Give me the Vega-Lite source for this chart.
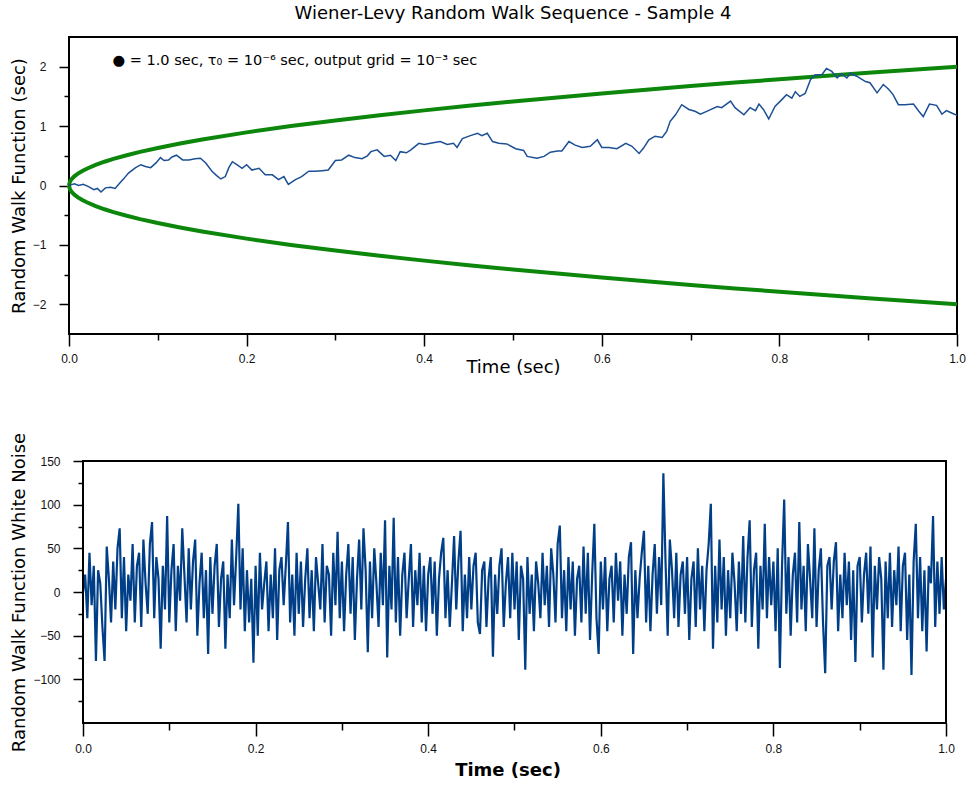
{
"$schema": "https://vega.github.io/schema/vega-lite/v6.json",
"background": "white",
"padding": {"left": 9, "top": 4, "right": 5, "bottom": 4},
"spacing": 55,
"config": {
"view": {"stroke": "#000", "strokeWidth": 2},
"axis": {"grid": false, "domain": false, "tickColor": "#000", "tickWidth": 1.5, "labelFont": "Liberation Sans", "labelFontSize": 12, "labelColor": "#111", "titleFont": "DejaVu Sans", "titleFontWeight": "normal", "titleFontSize": 18, "titleColor": "#000", "labelFlush": false, "labelOverlap": false}
},
"datasets": {
"walk": [
{"t":0,"v":0},{"t":0.002,"v":0.01},{"t":0.006,"v":0.03},{"t":0.011,"v":0.0},{"t":0.016,"v":0.02},{"t":0.022,"v":-0.02},{"t":0.028,"v":-0.07},{"t":0.032,"v":-0.05},{"t":0.036,"v":-0.11},{"t":0.041,"v":-0.04},{"t":0.047,"v":-0.03},{"t":0.052,"v":-0.05},{"t":0.056,"v":0.02},{"t":0.062,"v":0.12},{"t":0.067,"v":0.21},{"t":0.075,"v":0.30},{"t":0.081,"v":0.35},{"t":0.086,"v":0.32},{"t":0.092,"v":0.30},{"t":0.098,"v":0.38},{"t":0.103,"v":0.47},{"t":0.107,"v":0.42},{"t":0.112,"v":0.43},{"t":0.116,"v":0.48},{"t":0.121,"v":0.51},{"t":0.128,"v":0.43},{"t":0.135,"v":0.43},{"t":0.142,"v":0.45},{"t":0.148,"v":0.46},{"t":0.154,"v":0.38},{"t":0.161,"v":0.24},{"t":0.166,"v":0.17},{"t":0.171,"v":0.11},{"t":0.176,"v":0.15},{"t":0.180,"v":0.30},{"t":0.184,"v":0.40},{"t":0.189,"v":0.35},{"t":0.195,"v":0.29},{"t":0.2,"v":0.35},{"t":0.206,"v":0.26},{"t":0.214,"v":0.29},{"t":0.221,"v":0.18},{"t":0.229,"v":0.18},{"t":0.236,"v":0.10},{"t":0.242,"v":0.15},{"t":0.247,"v":0.02},{"t":0.255,"v":0.10},{"t":0.262,"v":0.15},{"t":0.27,"v":0.24},{"t":0.277,"v":0.24},{"t":0.285,"v":0.25},{"t":0.292,"v":0.26},{"t":0.30,"v":0.42},{"t":0.307,"v":0.43},{"t":0.315,"v":0.51},{"t":0.322,"v":0.47},{"t":0.33,"v":0.45},{"t":0.336,"v":0.50},{"t":0.34,"v":0.57},{"t":0.347,"v":0.60},{"t":0.355,"v":0.49},{"t":0.362,"v":0.51},{"t":0.368,"v":0.42},{"t":0.373,"v":0.57},{"t":0.38,"v":0.55},{"t":0.385,"v":0.60},{"t":0.394,"v":0.71},{"t":0.40,"v":0.69},{"t":0.407,"v":0.71},{"t":0.418,"v":0.74},{"t":0.426,"v":0.69},{"t":0.433,"v":0.71},{"t":0.437,"v":0.64},{"t":0.443,"v":0.79},{"t":0.452,"v":0.84},{"t":0.46,"v":0.88},{"t":0.465,"v":0.84},{"t":0.471,"v":0.88},{"t":0.477,"v":0.74},{"t":0.484,"v":0.71},{"t":0.493,"v":0.70},{"t":0.503,"v":0.62},{"t":0.512,"v":0.59},{"t":0.516,"v":0.49},{"t":0.527,"v":0.46},{"t":0.535,"v":0.49},{"t":0.542,"v":0.56},{"t":0.55,"v":0.58},{"t":0.555,"v":0.58},{"t":0.563,"v":0.74},{"t":0.57,"v":0.68},{"t":0.578,"v":0.64},{"t":0.587,"v":0.66},{"t":0.595,"v":0.77},{"t":0.60,"v":0.64},{"t":0.608,"v":0.64},{"t":0.617,"v":0.62},{"t":0.627,"v":0.71},{"t":0.634,"v":0.66},{"t":0.642,"v":0.54},{"t":0.647,"v":0.63},{"t":0.653,"v":0.77},{"t":0.66,"v":0.83},{"t":0.668,"v":0.81},{"t":0.673,"v":0.91},{"t":0.677,"v":1.08},{"t":0.683,"v":1.19},{"t":0.69,"v":1.36},{"t":0.698,"v":1.28},{"t":0.705,"v":1.25},{"t":0.711,"v":1.20},{"t":0.72,"v":1.26},{"t":0.73,"v":1.33},{"t":0.735,"v":1.31},{"t":0.745,"v":1.42},{"t":0.75,"v":1.31},{"t":0.76,"v":1.19},{"t":0.767,"v":1.31},{"t":0.773,"v":1.26},{"t":0.777,"v":1.37},{"t":0.782,"v":1.28},{"t":0.788,"v":1.12},{"t":0.795,"v":1.33},{"t":0.803,"v":1.45},{"t":0.808,"v":1.53},{"t":0.814,"v":1.47},{"t":0.818,"v":1.58},{"t":0.823,"v":1.50},{"t":0.829,"v":1.55},{"t":0.835,"v":1.78},{"t":0.84,"v":1.86},{"t":0.848,"v":1.87},{"t":0.853,"v":1.97},{"t":0.859,"v":1.92},{"t":0.865,"v":1.81},{"t":0.87,"v":1.88},{"t":0.876,"v":1.81},{"t":0.88,"v":1.89},{"t":0.887,"v":1.84},{"t":0.897,"v":1.75},{"t":0.902,"v":1.73},{"t":0.91,"v":1.56},{"t":0.917,"v":1.70},{"t":0.923,"v":1.62},{"t":0.928,"v":1.53},{"t":0.934,"v":1.36},{"t":0.941,"v":1.36},{"t":0.951,"v":1.37},{"t":0.957,"v":1.25},{"t":0.962,"v":1.16},{"t":0.969,"v":1.37},{"t":0.977,"v":1.35},{"t":0.983,"v":1.20},{"t":0.988,"v":1.26},{"t":0.994,"v":1.22},{"t":1.0,"v":1.18}
],
"env": [
{"t":0,"hi":0,"lo":0},{"t":0.001,"hi":0.0632,"lo":-0.0632},{"t":0.003,"hi":0.1095,"lo":-0.1095},{"t":0.006,"hi":0.1549,"lo":-0.1549},{"t":0.01,"hi":0.2,"lo":-0.2},{"t":0.015,"hi":0.2449,"lo":-0.2449},{"t":0.02,"hi":0.2828,"lo":-0.2828},{"t":0.03,"hi":0.3464,"lo":-0.3464},{"t":0.04,"hi":0.4,"lo":-0.4},{"t":0.05,"hi":0.4472,"lo":-0.4472},{"t":0.065,"hi":0.5099,"lo":-0.5099},{"t":0.08,"hi":0.5657,"lo":-0.5657},{"t":0.1,"hi":0.6325,"lo":-0.6325},{"t":0.125,"hi":0.7071,"lo":-0.7071},{"t":0.15,"hi":0.7746,"lo":-0.7746},{"t":0.2,"hi":0.8944,"lo":-0.8944},{"t":0.25,"hi":1.0,"lo":-1.0},{"t":0.3,"hi":1.0954,"lo":-1.0954},{"t":0.35,"hi":1.1832,"lo":-1.1832},{"t":0.4,"hi":1.2649,"lo":-1.2649},{"t":0.45,"hi":1.3416,"lo":-1.3416},{"t":0.5,"hi":1.4142,"lo":-1.4142},{"t":0.55,"hi":1.4832,"lo":-1.4832},{"t":0.6,"hi":1.5492,"lo":-1.5492},{"t":0.65,"hi":1.6125,"lo":-1.6125},{"t":0.7,"hi":1.6733,"lo":-1.6733},{"t":0.75,"hi":1.7321,"lo":-1.7321},{"t":0.8,"hi":1.7889,"lo":-1.7889},{"t":0.85,"hi":1.8439,"lo":-1.8439},{"t":0.9,"hi":1.8974,"lo":-1.8974},{"t":0.95,"hi":1.9494,"lo":-1.9494},{"t":1.0,"hi":2.0,"lo":-2.0}
],
"noise": [
{"t":0,"v":0},{"t":0.0025,"v":20},{"t":0.005,"v":-30},{"t":0.0075,"v":45},{"t":0.01,"v":-15},{"t":0.0125,"v":30},{"t":0.015,"v":-79},{"t":0.0175,"v":25},{"t":0.02,"v":10},{"t":0.0225,"v":-40},{"t":0.025,"v":-79},{"t":0.0275,"v":52},{"t":0.03,"v":15},{"t":0.0325,"v":-35},{"t":0.035,"v":35},{"t":0.0375,"v":-20},{"t":0.04,"v":50},{"t":0.0425,"v":73},{"t":0.045,"v":-30},{"t":0.0475,"v":40},
{"t":0.05,"v":-45},{"t":0.0525,"v":20},{"t":0.055,"v":-10},{"t":0.0575,"v":55},{"t":0.06,"v":-35},{"t":0.0625,"v":30},{"t":0.065,"v":45},{"t":0.0675,"v":-40},{"t":0.07,"v":60},{"t":0.0725,"v":10},{"t":0.075,"v":-25},{"t":0.0775,"v":55},{"t":0.08,"v":80},{"t":0.0825,"v":-30},{"t":0.085,"v":40},{"t":0.0875,"v":15},{"t":0.09,"v":-65},{"t":0.0925,"v":30},{"t":0.095,"v":-20},{"t":0.0975,"v":87},
{"t":0.1,"v":-35},{"t":0.1025,"v":25},{"t":0.105,"v":55},{"t":0.1075,"v":-45},{"t":0.11,"v":30},{"t":0.1125,"v":-10},{"t":0.115,"v":73},{"t":0.1175,"v":20},{"t":0.12,"v":-35},{"t":0.1225,"v":50},{"t":0.125,"v":-20},{"t":0.1275,"v":35},{"t":0.13,"v":60},{"t":0.1325,"v":-50},{"t":0.135,"v":10},{"t":0.1375,"v":45},{"t":0.14,"v":-30},{"t":0.1425,"v":25},{"t":0.145,"v":-71},{"t":0.1475,"v":40},
{"t":0.15,"v":-25},{"t":0.1525,"v":30},{"t":0.155,"v":55},{"t":0.1575,"v":-40},{"t":0.16,"v":15},{"t":0.1625,"v":35},{"t":0.165,"v":-65},{"t":0.1675,"v":20},{"t":0.17,"v":-30},{"t":0.1725,"v":60},{"t":0.175,"v":-15},{"t":0.1775,"v":40},{"t":0.18,"v":101},{"t":0.1825,"v":-20},{"t":0.185,"v":50},{"t":0.1875,"v":-45},{"t":0.19,"v":25},{"t":0.1925,"v":-35},{"t":0.195,"v":15},{"t":0.1975,"v":-81},
{"t":0.2,"v":30},{"t":0.2025,"v":-50},{"t":0.205,"v":45},{"t":0.2075,"v":-20},{"t":0.21,"v":10},{"t":0.2125,"v":35},{"t":0.215,"v":-45},{"t":0.2175,"v":20},{"t":0.22,"v":-30},{"t":0.2225,"v":50},{"t":0.225,"v":-55},{"t":0.2275,"v":25},{"t":0.23,"v":40},{"t":0.2325,"v":-15},{"t":0.235,"v":30},{"t":0.2375,"v":80},{"t":0.24,"v":-35},{"t":0.2425,"v":20},{"t":0.245,"v":-50},{"t":0.2475,"v":45},
{"t":0.25,"v":-25},{"t":0.2525,"v":35},{"t":0.255,"v":-40},{"t":0.2575,"v":15},{"t":0.26,"v":50},{"t":0.2625,"v":-30},{"t":0.265,"v":25},{"t":0.2675,"v":-45},{"t":0.27,"v":40},{"t":0.2725,"v":10},{"t":0.275,"v":-20},{"t":0.2775,"v":55},{"t":0.28,"v":-35},{"t":0.2825,"v":30},{"t":0.285,"v":20},{"t":0.2875,"v":-50},{"t":0.29,"v":45},{"t":0.2925,"v":-15},{"t":0.295,"v":69},{"t":0.2975,"v":-30},
{"t":0.3,"v":35},{"t":0.3025,"v":-45},{"t":0.305,"v":20},{"t":0.3075,"v":55},{"t":0.31,"v":-25},{"t":0.3125,"v":40},{"t":0.315,"v":-55},{"t":0.3175,"v":15},{"t":0.32,"v":60},{"t":0.3225,"v":-20},{"t":0.325,"v":73},{"t":0.3275,"v":25},{"t":0.33,"v":-69},{"t":0.3325,"v":35},{"t":0.335,"v":-30},{"t":0.3375,"v":50},{"t":0.34,"v":10},{"t":0.3425,"v":-40},{"t":0.345,"v":45},{"t":0.3475,"v":-15},
{"t":0.35,"v":82},{"t":0.3525,"v":-75},{"t":0.355,"v":30},{"t":0.3575,"v":-20},{"t":0.36,"v":85},{"t":0.3625,"v":-35},{"t":0.365,"v":40},{"t":0.3675,"v":-50},{"t":0.37,"v":20},{"t":0.3725,"v":45},{"t":0.375,"v":-30},{"t":0.3775,"v":15},{"t":0.38,"v":55},{"t":0.3825,"v":-40},{"t":0.385,"v":25},{"t":0.3875,"v":-15},{"t":0.39,"v":45},{"t":0.3925,"v":-35},{"t":0.395,"v":30},{"t":0.3975,"v":-45},
{"t":0.4,"v":20},{"t":0.4025,"v":40},{"t":0.405,"v":-25},{"t":0.4075,"v":35},{"t":0.41,"v":-50},{"t":0.4125,"v":15},{"t":0.415,"v":45},{"t":0.4175,"v":62},{"t":0.42,"v":-30},{"t":0.4225,"v":25},{"t":0.425,"v":-40},{"t":0.4275,"v":10},{"t":0.43,"v":64},{"t":0.4325,"v":-20},{"t":0.435,"v":35},{"t":0.4375,"v":70},{"t":0.44,"v":-45},{"t":0.4425,"v":20},{"t":0.445,"v":-30},{"t":0.4475,"v":40},
{"t":0.45,"v":-20},{"t":0.4525,"v":30},{"t":0.455,"v":45},{"t":0.4575,"v":-35},{"t":0.46,"v":-48},{"t":0.4625,"v":25},{"t":0.465,"v":35},{"t":0.4675,"v":-40},{"t":0.47,"v":15},{"t":0.4725,"v":40},{"t":0.475,"v":-74},{"t":0.4775,"v":20},{"t":0.48,"v":-25},{"t":0.4825,"v":30},{"t":0.485,"v":50},{"t":0.4875,"v":-40},{"t":0.49,"v":10},{"t":0.4925,"v":40},{"t":0.495,"v":-30},{"t":0.4975,"v":45},
{"t":0.5,"v":-20},{"t":0.5025,"v":35},{"t":0.505,"v":-55},{"t":0.5075,"v":30},{"t":0.51,"v":15},{"t":0.5125,"v":-89},{"t":0.515,"v":40},{"t":0.5175,"v":-25},{"t":0.52,"v":20},{"t":0.5225,"v":-45},{"t":0.525,"v":35},{"t":0.5275,"v":10},{"t":0.53,"v":-30},{"t":0.5325,"v":45},{"t":0.535,"v":-15},{"t":0.5375,"v":30},{"t":0.54,"v":-40},{"t":0.5425,"v":50},{"t":0.545,"v":20},{"t":0.5475,"v":-35},
{"t":0.55,"v":55},{"t":0.5525,"v":76},{"t":0.555,"v":-30},{"t":0.5575,"v":25},{"t":0.56,"v":-45},{"t":0.5625,"v":40},{"t":0.565,"v":-20},{"t":0.5675,"v":35},{"t":0.57,"v":-50},{"t":0.5725,"v":15},{"t":0.575,"v":30},{"t":0.5775,"v":-35},{"t":0.58,"v":52},{"t":0.5825,"v":-25},{"t":0.585,"v":45},{"t":0.5875,"v":-55},{"t":0.59,"v":20},{"t":0.5925,"v":78},{"t":0.595,"v":-30},{"t":0.5975,"v":-71},
{"t":0.6,"v":35},{"t":0.6025,"v":-20},{"t":0.605,"v":40},{"t":0.6075,"v":-45},{"t":0.61,"v":15},{"t":0.6125,"v":30},{"t":0.615,"v":-35},{"t":0.6175,"v":45},{"t":0.62,"v":-10},{"t":0.6225,"v":35},{"t":0.625,"v":-50},{"t":0.6275,"v":20},{"t":0.63,"v":-25},{"t":0.6325,"v":40},{"t":0.635,"v":57},{"t":0.6375,"v":-71},{"t":0.64,"v":25},{"t":0.6425,"v":-30},{"t":0.645,"v":15},{"t":0.6475,"v":45},
{"t":0.65,"v":70},{"t":0.6525,"v":-35},{"t":0.655,"v":30},{"t":0.6575,"v":-45},{"t":0.66,"v":20},{"t":0.6625,"v":55},{"t":0.665,"v":-25},{"t":0.6675,"v":40},{"t":0.67,"v":-15},{"t":0.6725,"v":136},{"t":0.675,"v":35},{"t":0.6775,"v":-50},{"t":0.68,"v":60},{"t":0.6825,"v":25},{"t":0.685,"v":-30},{"t":0.6875,"v":45},{"t":0.69,"v":-40},{"t":0.6925,"v":20},{"t":0.695,"v":35},{"t":0.6975,"v":-25},
{"t":0.7,"v":40},{"t":0.7025,"v":-55},{"t":0.705,"v":15},{"t":0.7075,"v":35},{"t":0.71,"v":-40},{"t":0.7125,"v":50},{"t":0.715,"v":-20},{"t":0.7175,"v":30},{"t":0.72,"v":-45},{"t":0.7225,"v":25},{"t":0.725,"v":55},{"t":0.7275,"v":101},{"t":0.73,"v":-65},{"t":0.7325,"v":30},{"t":0.735,"v":-35},{"t":0.7375,"v":60},{"t":0.74,"v":-20},{"t":0.7425,"v":40},{"t":0.745,"v":-50},{"t":0.7475,"v":25},
{"t":0.75,"v":-30},{"t":0.7525,"v":45},{"t":0.755,"v":10},{"t":0.7575,"v":-45},{"t":0.76,"v":35},{"t":0.7625,"v":-25},{"t":0.765,"v":64},{"t":0.7675,"v":-35},{"t":0.77,"v":40},{"t":0.7725,"v":82},{"t":0.775,"v":-40},{"t":0.7775,"v":25},{"t":0.78,"v":45},{"t":0.7825,"v":-65},{"t":0.785,"v":30},{"t":0.7875,"v":-20},{"t":0.79,"v":78},{"t":0.7925,"v":-30},{"t":0.795,"v":40},{"t":0.7975,"v":-15},
{"t":0.8,"v":35},{"t":0.8025,"v":-45},{"t":0.805,"v":50},{"t":0.8075,"v":-87},{"t":0.81,"v":30},{"t":0.8125,"v":106},{"t":0.815,"v":-25},{"t":0.8175,"v":40},{"t":0.82,"v":-50},{"t":0.8225,"v":20},{"t":0.825,"v":45},{"t":0.8275,"v":-35},{"t":0.83,"v":80},{"t":0.8325,"v":-20},{"t":0.835,"v":30},{"t":0.8375,"v":-45},{"t":0.84,"v":55},{"t":0.8425,"v":15},{"t":0.845,"v":-30},{"t":0.8475,"v":73},
{"t":0.85,"v":-40},{"t":0.8525,"v":25},{"t":0.855,"v":50},{"t":0.8575,"v":-35},{"t":0.86,"v":-93},{"t":0.8625,"v":30},{"t":0.865,"v":40},{"t":0.8675,"v":-20},{"t":0.87,"v":35},{"t":0.8725,"v":57},{"t":0.875,"v":-45},{"t":0.8775,"v":20},{"t":0.88,"v":-30},{"t":0.8825,"v":45},{"t":0.885,"v":-15},{"t":0.8875,"v":35},{"t":0.89,"v":-55},{"t":0.8925,"v":25},{"t":0.895,"v":-80},{"t":0.8975,"v":30},
{"t":0.9,"v":40},{"t":0.9025,"v":-35},{"t":0.905,"v":20},{"t":0.9075,"v":45},{"t":0.91,"v":-25},{"t":0.9125,"v":52},{"t":0.915,"v":-75},{"t":0.9175,"v":30},{"t":0.92,"v":-20},{"t":0.9225,"v":40},{"t":0.925,"v":15},{"t":0.9275,"v":-89},{"t":0.93,"v":35},{"t":0.9325,"v":-30},{"t":0.935,"v":45},{"t":0.9375,"v":-40},{"t":0.94,"v":25},{"t":0.9425,"v":-15},{"t":0.945,"v":52},{"t":0.9475,"v":-45},
{"t":0.95,"v":30},{"t":0.9525,"v":45},{"t":0.955,"v":-55},{"t":0.9575,"v":20},{"t":0.96,"v":-95},{"t":0.9625,"v":35},{"t":0.965,"v":78},{"t":0.9675,"v":-30},{"t":0.97,"v":40},{"t":0.9725,"v":-45},{"t":0.975,"v":25},{"t":0.9775,"v":-68},{"t":0.98,"v":30},{"t":0.9825,"v":10},{"t":0.985,"v":87},{"t":0.9875,"v":-40},{"t":0.99,"v":35},{"t":0.9925,"v":-25},{"t":0.995,"v":40},{"t":0.9975,"v":-20},{"t":1.0,"v":15}
],
"frame": [{"x0": 0, "x1": 1, "y0": -150, "y1": 150}]
},
"vconcat": [
{
"width": 888,
"height": 297,
"title": {"text": "Wiener-Levy Random Walk Sequence - Sample 4", "font": "DejaVu Sans", "fontSize": 18, "fontWeight": "normal", "color": "#000", "offset": 14, "anchor": "middle", "frame": "group"},
"resolve": {"axis": {"x": "independent", "y": "independent"}},
"layer": [
{
"mark": {"type": "rule", "color": "#222", "strokeWidth": 1.5},
"encoding": {
"x": {"datum": 0, "type": "quantitative", "scale": {"domain": [0, 1], "nice": false}, "axis": {"orient": "bottom", "values": [0.1, 0.3, 0.5, 0.7, 0.9], "tickSize": 6, "labels": false, "title": null}},
"x2": {"datum": 1},
"y": {"datum": 0, "type": "quantitative", "scale": {"domain": [-2.5, 2.5], "nice": false}, "axis": {"orient": "left", "values": [-1.5, -0.5, 0.5, 1.5], "tickSize": 5, "labels": false, "title": null}}
}
},
{
"data": {"name": "env"},
"mark": {"type": "line", "color": "#0c870c", "strokeWidth": 4},
"encoding": {
"x": {"field": "t", "type": "quantitative", "scale": {"domain": [0, 1], "nice": false}, "axis": null},
"y": {"field": "hi", "type": "quantitative", "scale": {"domain": [-2.5, 2.5], "nice": false}, "axis": null}
}
},
{
"data": {"name": "env"},
"mark": {"type": "line", "color": "#0c870c", "strokeWidth": 4},
"encoding": {
"x": {"field": "t", "type": "quantitative", "scale": {"domain": [0, 1], "nice": false}, "axis": null},
"y": {"field": "lo", "type": "quantitative", "scale": {"domain": [-2.5, 2.5], "nice": false}, "axis": null}
}
},
{
"data": {"name": "walk"},
"mark": {"type": "line", "color": "#1c4f94", "strokeWidth": 1.5},
"encoding": {
"x": {"field": "t", "type": "quantitative", "scale": {"domain": [0, 1], "nice": false}, "axis": {"orient": "bottom", "values": [0, 0.2, 0.4, 0.6, 0.8, 1], "format": ".1f", "tickSize": 12, "labelPadding": 7, "title": "Time (sec)", "titlePadding": -6}},
"y": {"field": "v", "type": "quantitative", "scale": {"domain": [-2.5, 2.5], "nice": false}, "axis": {"orient": "left", "values": [-2, -1, 0, 1, 2], "tickSize": 10, "labelPadding": 13, "title": "Random Walk Function (sec)", "titlePadding": 4}}
}
},
{
"data": {"values": [{"label": "● = 1.0 sec,  τ₀ = 10⁻⁶ sec, output grid =  10⁻³ sec"}]},
"mark": {"type": "text", "align": "left", "baseline": "middle", "font": "DejaVu Sans", "fontSize": 14.5, "color": "#000"},
"encoding": {
"x": {"datum": 0.049, "type": "quantitative", "scale": {"domain": [0, 1], "nice": false}, "axis": null},
"y": {"datum": 2.09, "type": "quantitative", "scale": {"domain": [-2.5, 2.5], "nice": false}, "axis": null},
"text": {"field": "label", "type": "nominal"}
}
}
]
},
{
"width": 877,
"height": 262,
"view": {"stroke": null},
"resolve": {"axis": {"x": "independent", "y": "independent"}},
"layer": [
{
"data": {"name": "noise"},
"mark": {"type": "line", "color": "#003f87", "strokeWidth": 2.2},
"encoding": {
"x": {"field": "t", "type": "quantitative", "scale": {"domain": [-0.01622, 1], "nice": false, "zero": false}, "axis": {"orient": "bottom", "values": [0, 0.2, 0.4, 0.6, 0.8, 1], "format": ".1f", "tickSize": 13, "labelPadding": 7, "title": "Time (sec)", "titleFontWeight": "bold", "titlePadding": 7}},
"y": {"field": "v", "type": "quantitative", "scale": {"domain": [-150, 150], "nice": false}, "axis": {"orient": "left", "offset": -14, "values": [-100, -50, 0, 50, 100, 150], "tickSize": 10, "labelPadding": 13, "title": "Random Walk Function White Noise", "titlePadding": 4}}
}
},
{
"mark": {"type": "rule", "color": "#000", "strokeWidth": 2.5},
"encoding": {
"x": {"datum": 0, "type": "quantitative", "scale": {"domain": [-0.01622, 1], "nice": false, "zero": false}, "axis": {"orient": "bottom", "values": [0.1, 0.3, 0.5, 0.7, 0.9], "tickSize": 7, "labels": false, "title": null}},
"x2": {"datum": 1},
"y": {"datum": 0, "type": "quantitative", "scale": {"domain": [-150, 150], "nice": false}, "axis": {"orient": "left", "offset": -14, "values": [-125, -75, -25, 25, 75, 125], "tickSize": 5, "labels": false, "title": null}}
}
},
{
"data": {"name": "frame"},
"mark": {"type": "rect", "filled": false, "color": "#000", "strokeWidth": 2},
"encoding": {
"x": {"field": "x0", "type": "quantitative", "scale": {"domain": [-0.01622, 1], "nice": false, "zero": false}, "axis": null},
"x2": {"field": "x1"},
"y": {"field": "y0", "type": "quantitative", "scale": {"domain": [-150, 150], "nice": false}, "axis": null},
"y2": {"field": "y1"}
}
}
]
}
]
}
